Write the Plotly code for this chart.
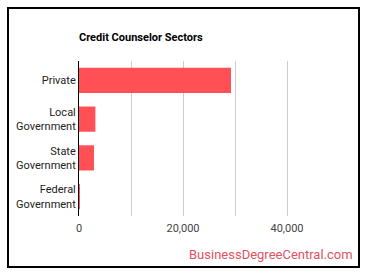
import plotly.graph_objects as go

categories = ["Private", "Local<br>Government", "State<br>Government", "Federal<br>Government"]
values = [29230, 3150, 2880, 40]
tick_vals = [0, 10000, 20000, 30000, 40000]
tick_text = ["0", "", "20,000", "", "40,000"]

W, H = 370, 278
L, R, T, B = 79, 31, 61, 62
pw, ph = W - L - R, H - T - B

def px(x):
    return (x - L) / pw

def py(y):
    return (H - B - y) / ph

fig = go.Figure(go.Bar(
    x=values, y=categories, orientation="h",
    marker=dict(color="#ff5056", line=dict(width=0)),
    hoverinfo="x+y",
))

fig.update_layout(
    width=W, height=H,
    margin=dict(l=L, r=R, t=T, b=B),
    paper_bgcolor="white", plot_bgcolor="white",
    font=dict(family="Roboto, Arial, sans-serif", size=11, color="#222"),
    bargap=0.35,
    showlegend=False,
    title=dict(text="<b>Credit Counselor Sectors</b>", x=px(79), xref="paper", xanchor="left",
               y=1 - 37 / H, yref="container", yanchor="middle",
               font=dict(size=11, color="#000", family="Roboto, Arial, sans-serif")),
    xaxis=dict(range=[0, 50000], tickvals=tick_vals, ticktext=tick_text,
               showgrid=True, gridcolor="#cccccc", gridwidth=1, zeroline=False,
               showline=False, ticklabelstandoff=4,
               tickfont=dict(color="#444", size=11), fixedrange=True),
    yaxis=dict(autorange="reversed", showgrid=False, zeroline=False,
               showline=True, linecolor="#000", linewidth=1,
               ticks="", tickfont=dict(color="#222", size=11), fixedrange=True),
    shapes=[dict(type="rect", xref="paper", yref="paper",
                 x0=px(8), x1=px(359), y0=py(267), y1=py(8),
                 line=dict(color="#000", width=2), fillcolor="rgba(0,0,0,0)", layer="above")],
    annotations=[dict(text="BusinessDegreeCentral.com", xref="paper", yref="paper",
                      x=px(355), y=py(255), xanchor="right", yanchor="middle", showarrow=False,
                      font=dict(size=13, color="#e05262", family="Roboto, Arial, sans-serif"))],
)

fig.write_html("out.html", config={"displayModeBar": False})
